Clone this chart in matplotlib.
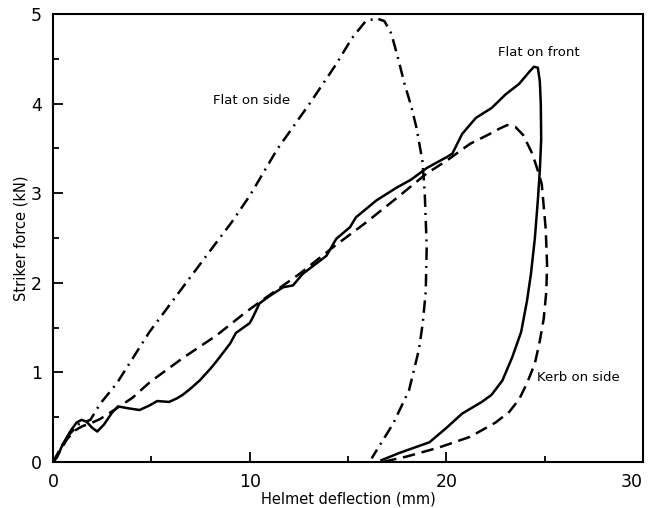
import matplotlib
matplotlib.use("Agg")
import matplotlib.pyplot as plt
from matplotlib.ticker import MultipleLocator

# Flat on side (dash-dot)
side_x = [0, 0.3, 0.8, 1.3, 1.9, 2.4, 3.25, 4.9, 6.6, 8.0, 9.1, 10.0, 11.4, 13.05,
          14.4, 15.2, 15.9, 16.45, 16.85, 17.2, 17.55, 17.87, 18.2, 18.48, 18.78,
          18.9, 19.0, 18.95, 18.8, 18.6, 18.1, 17.3, 16.2]
side_y = [0, 0.12, 0.3, 0.42, 0.47, 0.65, 0.88, 1.45, 1.95, 2.36, 2.68, 2.97, 3.49,
          4.0, 4.44, 4.73, 4.92, 4.95, 4.92, 4.78, 4.5, 4.22, 3.98, 3.73, 3.36,
          3.0, 2.4, 1.9, 1.55, 1.25, 0.8, 0.43, 0.04]

# Flat on front (solid)
front_x = [0, 0.2, 0.5, 0.9, 1.2, 1.45, 1.7, 2.0, 2.25, 2.6, 3.0, 3.3, 3.8, 4.4,
           4.9, 5.3, 5.9, 6.3, 6.6, 7.0, 7.46, 8.0, 8.3, 9.0, 9.3, 10.0, 10.15,
           10.5, 11.0, 11.7, 12.2, 12.7, 13.3, 13.9, 14.4, 15.1, 15.4, 16.45,
           17.46, 18.2, 19.0, 20.0, 20.3, 20.8, 21.5, 22.3, 23.0, 23.7, 24.2,
           24.45, 24.65, 24.75, 24.8, 24.82, 24.75, 24.65, 24.5, 24.3, 24.1,
           23.8, 23.35, 22.85, 22.3, 21.8, 20.8, 20.0, 19.14, 17.6, 16.7]
front_y = [0, 0.05, 0.2, 0.35, 0.44, 0.47, 0.45, 0.38, 0.34, 0.42, 0.55, 0.62,
           0.6, 0.58, 0.63, 0.68, 0.67, 0.71, 0.75, 0.82, 0.91, 1.04, 1.12, 1.32,
           1.44, 1.55, 1.61, 1.77, 1.85, 1.95, 1.97, 2.1, 2.2, 2.3, 2.49, 2.62,
           2.73, 2.92, 3.06, 3.15, 3.28, 3.4, 3.44, 3.66, 3.84, 3.95, 4.1, 4.22,
           4.35, 4.41, 4.4, 4.25, 4.0, 3.6, 3.25, 2.92, 2.5, 2.1, 1.8, 1.45,
           1.17, 0.91, 0.75, 0.67, 0.54, 0.38, 0.22, 0.1, 0.02]

# Kerb on side (dashed)
kerb_x = [0, 0.3, 0.7, 1.1, 1.5, 1.9, 2.4, 3.25, 4.06, 4.92, 6.6, 8.3, 9.85,
          10.86, 12.54, 14.2, 15.9, 17.5, 19.0, 20.0, 21.2, 22.2, 22.7, 23.1,
          23.5, 23.9, 24.37, 24.65, 24.85, 25.05, 25.12, 25.08, 24.95, 24.75,
          24.5, 24.1, 23.7, 23.2, 22.5, 21.2, 19.6, 17.97, 16.75]
kerb_y = [0, 0.1, 0.25, 0.35, 0.4, 0.43, 0.48, 0.6, 0.72, 0.89, 1.16, 1.41,
          1.68, 1.84, 2.1, 2.39, 2.67, 2.95, 3.22, 3.36, 3.55, 3.66, 3.72, 3.76,
          3.74, 3.65, 3.44, 3.25, 3.1, 2.6, 2.2, 1.9, 1.6, 1.35, 1.1, 0.88, 0.7,
          0.56, 0.44, 0.28, 0.16, 0.06, 0.0]

x_ticks = [0, 10, 20, 30]
x_labels = ["0", "10", "20", "30"]

fig = plt.figure(figsize=(6.52, 5.08), dpi=100)
ax = fig.add_axes([0.0813, 0.0906, 0.905, 0.882])

lw = 1.8
ax.plot(side_x, side_y, color="black", lw=lw, linestyle=(0, (5, 2.4, 0.8, 2.4)))
ax.plot(front_x, front_y, color="black", lw=lw)
ax.plot(kerb_x, kerb_y, color="black", lw=lw, linestyle=(0, (5, 2.7)))

ax.text(10.1, 4.03, "Flat on side", fontsize=9.5, ha="center", va="center")
ax.text(24.7, 4.57, "Flat on front", fontsize=9.5, ha="center", va="center")
ax.text(26.7, 0.94, "Kerb on side", fontsize=9.5, ha="center", va="center")

ax.set_xlim(0, 30)
ax.set_ylim(0, 5)
ax.set_xticks(x_ticks, labels=x_labels)
ax.xaxis.set_minor_locator(MultipleLocator(5))
ax.yaxis.set_major_locator(MultipleLocator(1))
ax.yaxis.set_minor_locator(MultipleLocator(0.5))
ax.tick_params(which="both", direction="in", width=1.3, labelsize=12.5, pad=8)
ax.tick_params(which="major", length=7)
ax.tick_params(which="minor", length=4)
for s in ax.spines.values():
    s.set_linewidth(1.5)

# keep the "30" label inside the figure
ax.get_xticklabels()[-1].set_horizontalalignment("right")

ax.set_xlabel("Helmet deflection (mm)", fontsize=10.5, labelpad=0)
ax.set_ylabel("Striker force (kN)", fontsize=10.5, labelpad=2)

fig.savefig("out.png", dpi=100)
